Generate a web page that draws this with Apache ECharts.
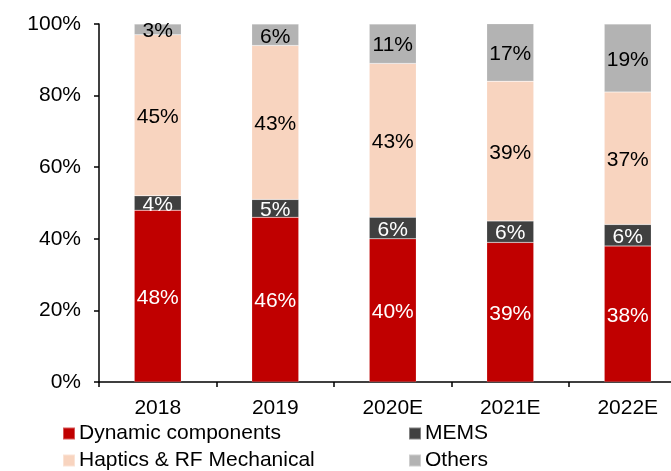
<!DOCTYPE html>
<html>
<head>
<meta charset="utf-8">
<script src="https://cdn.jsdelivr.net/npm/echarts@6/dist/echarts.min.js"></script>
<style>
  html, body { margin: 0; padding: 0; background: #fff; overflow: hidden; }
  #chart { width: 700px; height: 471px; }
</style>
</head>
<body>
<div id="chart"></div>
<script>
// Component mix by year (share of total, %)
const years = ['2018', '2019', '2020E', '2021E', '2022E'];
const dynamicComponents = [48, 46, 40, 39, 38];
const mems = [4, 5, 6, 6, 6];
const hapticsRf = [45, 43, 43, 39, 37];
const others = [3, 6, 11, 17, 19];
const yTicks = [0, 20, 40, 60, 80, 100];

const FONT = '"Liberation Sans", Arial, sans-serif';
const FS = 21;

function seriesOf(name, values, color, labelColor) {
  return {
    name: name,
    type: 'bar',
    stack: 'mix',
    data: values,
    barWidth: 47,
    itemStyle: { color: color, borderColor: 'rgba(255,255,255,0.35)', borderWidth: 0.5 },
    label: {
      show: true,
      position: 'inside',
      offset: [0, 2],
      formatter: '{c}%',
      color: labelColor,
      fontFamily: FONT,
      fontSize: FS
    }
  };
}

function legendAt(name, left, top) {
  return {
    data: [name],
    left: left,
    top: top,
    itemWidth: 12,
    itemHeight: 12,
    itemGap: 5,
    icon: 'rect',
    textStyle: { fontFamily: FONT, fontSize: FS, color: '#000', padding: [0, 0, 0, -1] },
    padding: 0
  };
}

const chart = echarts.init(document.getElementById('chart'));
chart.setOption({
  animation: false,
  backgroundColor: '#fff',
  grid: { left: 99, width: 587.5, top: 24, bottom: 89, containLabel: false },
  legend: [
    legendAt('Dynamic components', 62, 423),
    legendAt('MEMS', 408, 423),
    legendAt('Haptics & RF Mechanical', 62, 450),
    legendAt('Others', 408, 450)
  ],
  xAxis: {
    type: 'category',
    data: years,
    axisLine: { lineStyle: { color: '#000', width: 1.5 } },
    axisTick: { show: true, length: 5, lineStyle: { color: '#000', width: 1.5 } },
    axisLabel: { color: '#000', fontFamily: FONT, fontSize: FS, margin: 16 }
  },
  yAxis: {
    type: 'value',
    min: yTicks[0],
    max: yTicks[yTicks.length - 1],
    interval: yTicks[1] - yTicks[0],
    splitLine: { show: false },
    axisLine: { show: true, lineStyle: { color: '#000', width: 1.5 } },
    axisTick: { show: true, length: 5, lineStyle: { color: '#000', width: 1.5 } },
    axisLabel: { color: '#000', fontFamily: FONT, fontSize: FS, margin: 18, formatter: '{value}%' }
  },
  series: [
    seriesOf('Dynamic components', dynamicComponents, '#C00000', '#fff'),
    seriesOf('MEMS', mems, '#404040', '#fff'),
    seriesOf('Haptics & RF Mechanical', hapticsRf, '#F8D4BF', '#000'),
    seriesOf('Others', others, '#B3B3B3', '#000')
  ]
});
</script>
</body>
</html>
